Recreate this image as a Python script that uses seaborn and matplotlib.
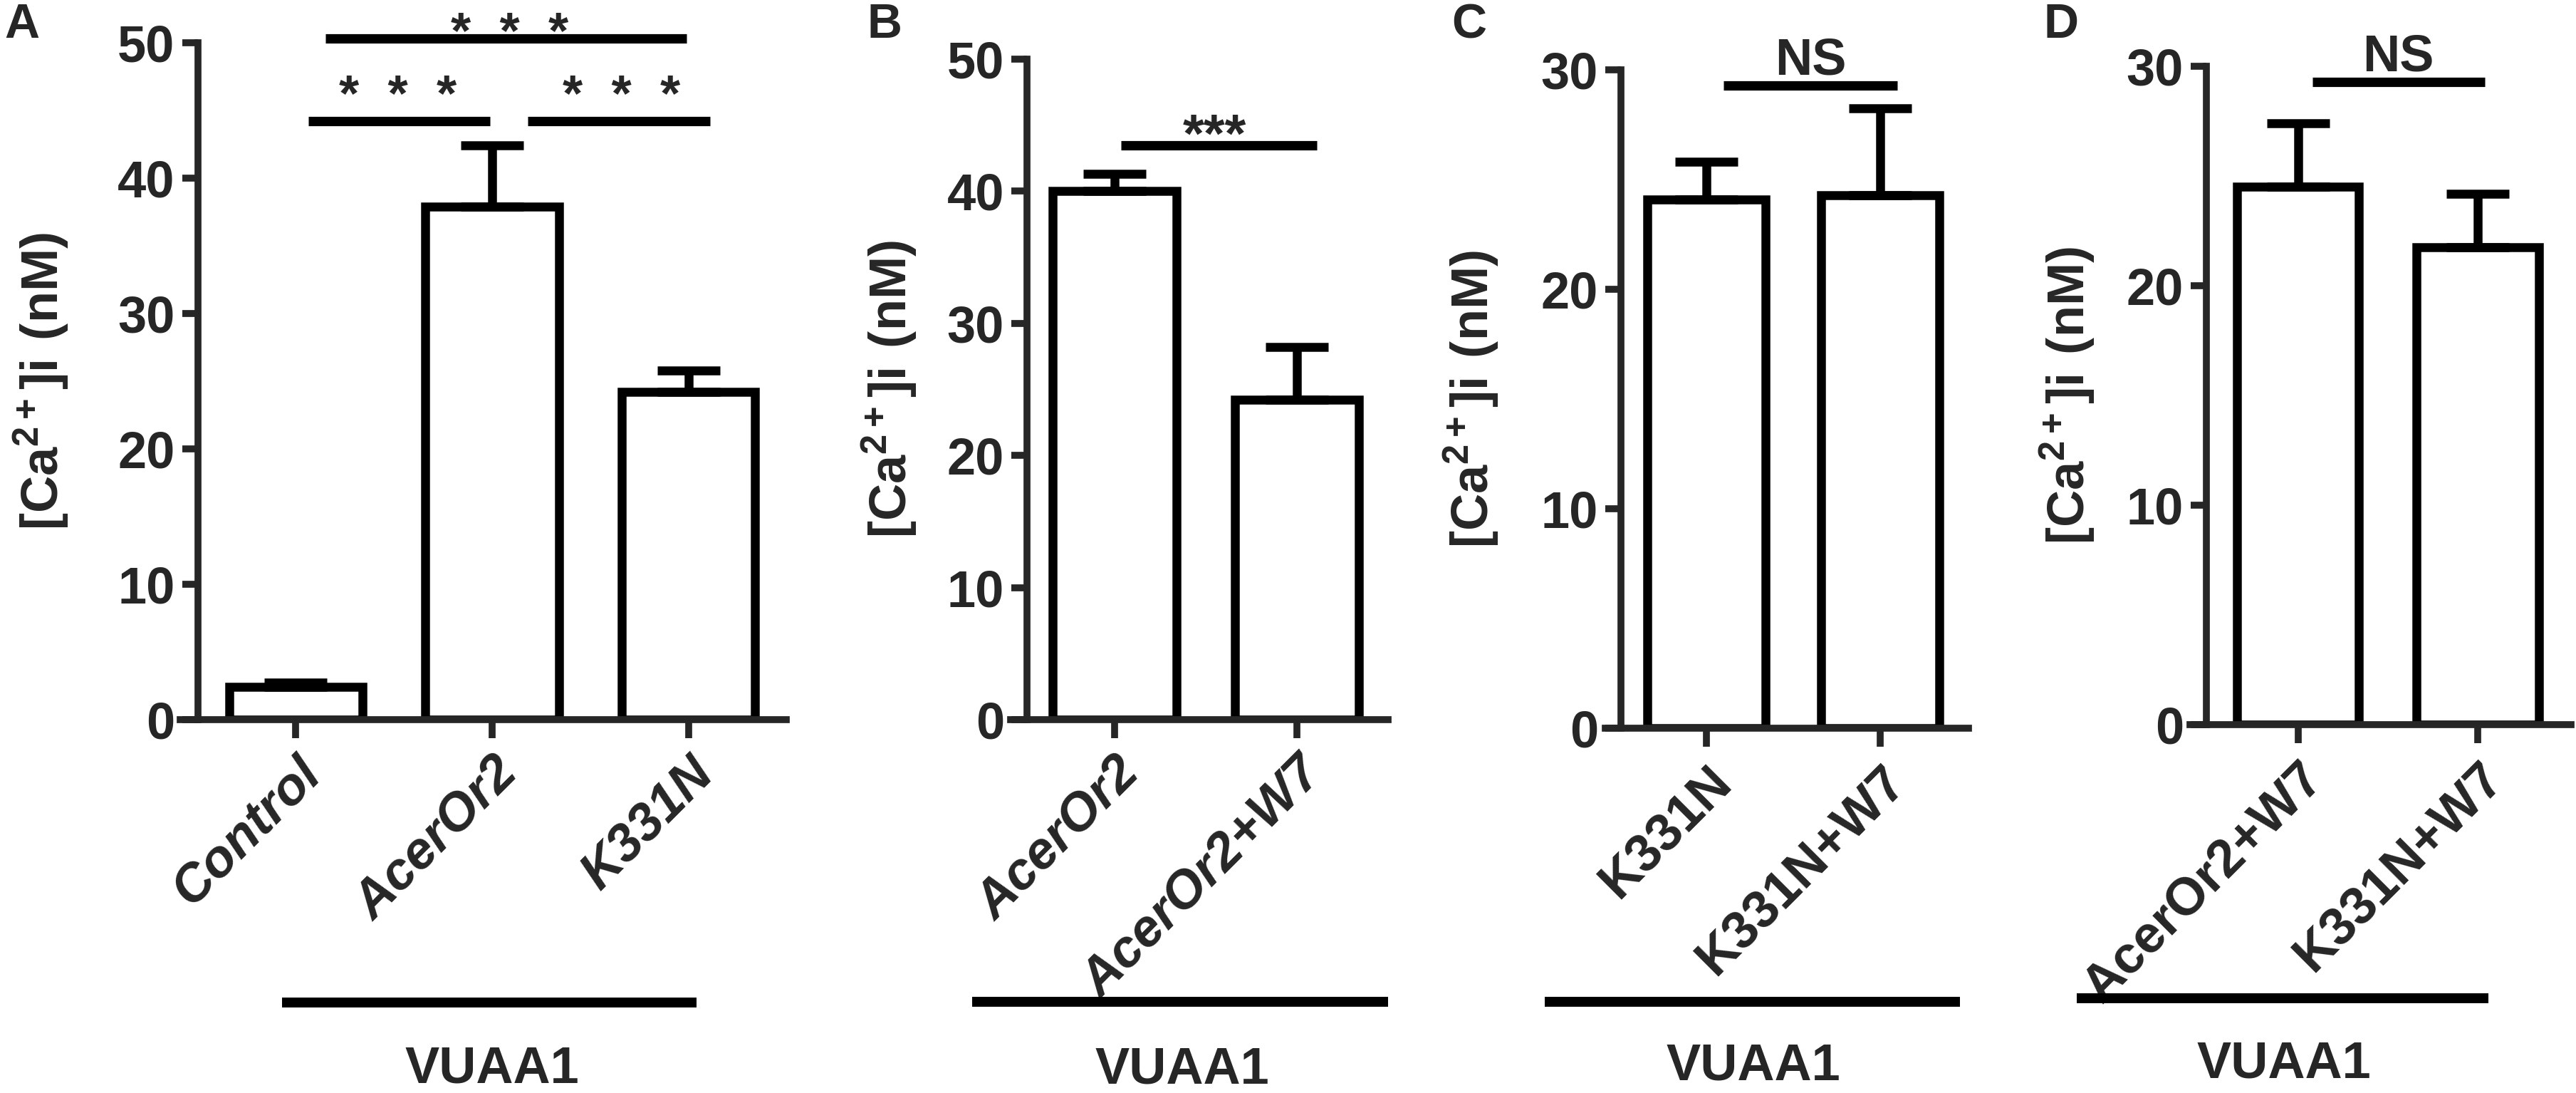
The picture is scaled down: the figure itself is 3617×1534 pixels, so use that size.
import numpy as np
import matplotlib.pyplot as plt
import seaborn as sns

# [Ca2+]i means and upper error bars (nM)
a_labels = ['Control', 'AcerOr2', 'K331N']
a_means = [2.4, 37.9, 24.2]
a_errs = [0.35, 4.5, 1.6]

b_labels = ['AcerOr2', 'AcerOr2+W7']
b_means = [40.0, 24.2]
b_errs = [1.3, 4.0]

c_labels = ['K331N', 'K331N+W7']
c_means = [24.1, 24.3]
c_errs = [1.7, 3.95]

d_labels = ['AcerOr2+W7', 'K331N+W7']
d_means = [24.5, 21.75]
d_errs = [2.9, 2.45]

sns.set_style('ticks')
plt.rcParams['font.family'] = ['Liberation Sans', 'DejaVu Sans']
plt.rcParams['font.weight'] = 'bold'
plt.rcParams['mathtext.fontset'] = 'custom'
plt.rcParams['mathtext.rm'] = 'Liberation Sans'
plt.rcParams['mathtext.bf'] = 'Liberation Sans:bold'

W, H = 3617, 1534
fig = plt.figure(figsize=(W / 100, H / 100), dpi=100)


def bar_panel(rect, labels, means, errs, ymax, xlim, label_x, italic):
    ax = fig.add_axes(rect)
    sns.barplot(x=labels, y=means, color='white', edgecolor='black',
                linewidth=9, width=0.68, saturation=1, ax=ax)
    n = len(labels)
    ax.errorbar(range(n), means, yerr=[np.zeros(n), errs], fmt='none',
                ecolor='black', elinewidth=9, capsize=32, capthick=9)
    ax.set_xlim(*xlim)
    ax.set_ylim(0, ymax)
    ax.set_yticks(np.arange(0, ymax + 1, 10))
    for side in ['top', 'right']:
        ax.spines[side].set_visible(False)
    for side in ['left', 'bottom']:
        ax.spines[side].set_linewidth(7)
    ax.spines['bottom'].set_bounds(xlim[0] - 0.09, xlim[1])
    ax.tick_params(axis='y', length=16, width=7, pad=7, labelsize=52)
    ax.tick_params(axis='x', length=19, width=7, pad=10)
    ax.set_xticks(range(n))
    ax.set_xticklabels(labels, rotation=45, ha='right', rotation_mode='anchor',
                       fontsize=53, fontstyle='italic' if italic else 'normal')
    ax.set_xlabel('')
    ax.set_ylabel(r'$\mathbf{[Ca^{2+}]i\ (nM)}$', fontsize=52)
    ax.yaxis.set_label_coords(label_x, 0.5)
    return ax


def sig(ax, x0, x1, y, text, ty, tx, fs):
    ax.plot([x0, x1], [y, y], color='black', lw=9.5, solid_capstyle='butt',
            clip_on=False)
    ax.text(tx, ty, text, ha='center', va='baseline', fontsize=fs,
            fontweight='bold', clip_on=False)


def treatment(ax, x0, x1, y, tx, ty):
    tr = ax.get_xaxis_transform()
    ax.plot([x0, x1], [y, y], color='black', lw=10, solid_capstyle='butt',
            transform=tr, clip_on=False)
    ax.text(tx, ty, 'VUAA1', ha='center', va='center', fontsize=52,
            fontweight='bold', transform=tr)


ax_a = bar_panel([277.5 / W, 1 - 1010 / H, 827 / W, 950 / H],
                 a_labels, a_means, a_errs, 50, (-0.5, 2.5), -0.216, True)
sig(ax_a, 0.15, 1.99, 50.3, '*  *  *', 49.6, 1.09, 52)
sig(ax_a, 0.065, 0.99, 44.2, '*  *  *', 44.95, 0.52, 52)
sig(ax_a, 1.18, 2.11, 44.2, '*  *  *', 44.95, 1.66, 52)
treatment(ax_a, -0.07, 2.04, -0.418, 1.0, -0.516)

ax_b = bar_panel([1442 / W, 1 - 1010 / H, 507 / W, 927 / H],
                 b_labels, b_means, b_errs, 50, (-0.48, 1.5), -0.30, True)
sig(ax_b, 0.035, 1.11, 43.5, '***', 43.0, 0.55, 55)
treatment(ax_b, -0.78, 1.5, -0.427, 0.37, -0.53)

ax_c = bar_panel([2276 / W, 1 - 1022 / H, 488 / W, 924 / H],
                 c_labels, c_means, c_errs, 30, (-0.49, 1.51), -0.346, False)
sig(ax_c, 0.1, 1.1, 29.3, 'NS', 29.8, 0.6, 52)
treatment(ax_c, -0.93, 1.46, -0.4156, 0.27, -0.513)

ax_d = bar_panel([3098 / W, 1 - 1017 / H, 512 / W, 924 / H],
                 d_labels, d_means, d_errs, 30, (-0.51, 1.52), -0.30, False)
sig(ax_d, 0.08, 1.04, 29.3, 'NS', 29.8, 0.56, 52)
treatment(ax_d, -1.23, 1.06, -0.4156, -0.08, -0.516)

for letter, x in zip(['A', 'B', 'C', 'D'], [6, 1218, 2038, 2869]):
    fig.text(x / W, 0.998, letter, ha='left', va='top', fontsize=49,
             fontweight='bold')

fig.savefig('out.png', dpi=100)
